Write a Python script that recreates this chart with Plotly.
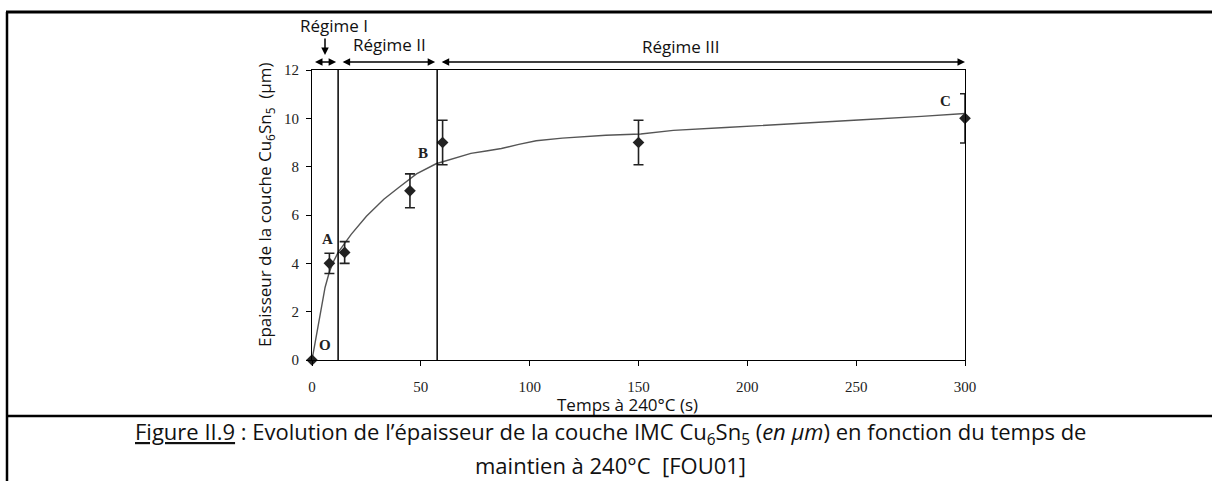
import plotly.graph_objects as go

# --- data ---
time_s = [0, 8, 15, 45, 60, 150, 300]
thickness_um = [0, 4.0, 4.45, 7.0, 9.0, 9.0, 10.0]
error_um = [None, 0.42, 0.45, 0.7, 0.92, 0.92, 1.02]

fit_time = [0, 3, 6, 8, 10, 12, 15, 18, 25, 33, 40, 48, 57, 65, 73, 80, 87, 95,
            103, 115, 135, 151, 166, 190, 218, 251, 280, 300]
fit_thickness = [0, 1.5, 3.0, 3.65, 4.1, 4.45, 4.85, 5.2, 5.95, 6.65, 7.15, 7.7, 8.12,
                 8.35, 8.55, 8.65, 8.75, 8.92, 9.07, 9.18, 9.3, 9.35, 9.5, 9.62, 9.75,
                 9.93, 10.08, 10.2]

regime_bounds = [0, 12, 57.5, 300]
regime_names = ['Régime I', 'Régime II', 'Régime III']

point_labels = ['O', 'A', 'B', 'C']
point_label_x = [6, 7, 51, 291]
point_label_y = [0.62, 5.0, 8.55, 10.7]

x_ticks = [0, 50, 100, 150, 200, 250, 300]
y_ticks = [0, 2, 4, 6, 8, 10, 12]

SANS = '"Open Sans", Lato, sans-serif'
SERIF = '"Liberation Serif", "Times New Roman", serif'

# plot area in page pixels
L, R, T, B = 312, 965, 70, 360


def px(xpix):
    return (xpix - L) / (R - L)


def py(ypix):
    return (B - ypix) / (B - T)


def label(text, xpix, ypix, font, **kw):
    # centred text placed by page pixel
    fig.add_annotation(x=px(xpix), y=py(ypix), xref='paper', yref='paper', text=text,
                       showarrow=False, xanchor='center', yanchor='middle', font=font, **kw)


fig = go.Figure()

# fitted curve
fig.add_trace(go.Scatter(
    x=fit_time, y=fit_thickness, mode='lines',
    line=dict(color='#555555', width=1.4),
    showlegend=False, hoverinfo='skip', cliponaxis=False
))

# measurements with error bars (origin has no bar)
fig.add_trace(go.Scatter(
    x=time_s[:1], y=thickness_um[:1], mode='markers',
    marker=dict(symbol='diamond', size=9, color='#222222'),
    showlegend=False, cliponaxis=False
))
fig.add_trace(go.Scatter(
    x=time_s[1:], y=thickness_um[1:], mode='markers',
    marker=dict(symbol='diamond', size=9, color='#222222'),
    error_y=dict(type='data', array=error_um[1:], visible=True,
                 color='#222222', thickness=1.6, width=5),
    showlegend=False, cliponaxis=False
))

# regime separators
for xb in regime_bounds[1:-1]:
    fig.add_shape(type='line', xref='x', yref='y', x0=xb, x1=xb, y0=0, y1=12,
                  line=dict(color='black', width=1.5))

# regime arrows above the plot (paper coords so they are not hidden)
xmax = regime_bounds[-1]
gaps = [(1.5, 2), (3, 2), (3, 0)]  # pixels between neighbouring arrows
for i in range(len(regime_names)):
    x0 = regime_bounds[i] / xmax * (R - L) + gaps[i][0]
    x1 = regime_bounds[i + 1] / xmax * (R - L) - gaps[i][1]
    fig.add_annotation(x=x1 / (R - L), y=py(62), xref='paper', yref='paper',
                       ax=-(x1 - x0), ay=0, axref='pixel', ayref='pixel',
                       text='', showarrow=True, arrowhead=2, arrowside='end+start',
                       arrowsize=1, arrowwidth=1.5, arrowcolor='black')

lab_font = dict(family=SANS, size=17, color='#111')
label(regime_names[0], 334, 25, lab_font)
fig.add_annotation(x=px(325), y=py(55), ax=0, ay=-18, xref='paper', yref='paper',
                   text='', showarrow=True, arrowhead=2, arrowsize=1, arrowwidth=1.5,
                   arrowcolor='black')
label(regime_names[1], 389, 44, lab_font)
label(regime_names[2], 681, 47, lab_font)

# point letters
for lab, lx, ly in zip(point_labels, point_label_x, point_label_y):
    fig.add_annotation(x=lx, y=ly, xref='x', yref='y', text='<b>' + lab + '</b>',
                       showarrow=False, font=dict(family=SERIF, size=15, color='#222'))

# axis titles
label('Epaisseur de la couche Cu<sub>6</sub>Sn<sub>5</sub>  (µm)', 265, 205,
      dict(family=SANS, size=17, color='#111'), textangle=-90)
label('Temps à 240°C (s)', 627, 404, dict(family=SANS, size=17, color='#111'))

# page frame and caption
frame = dict(xref='paper', yref='paper', type='line')
fig.add_shape(**frame, x0=px(6), x1=px(1212), y0=py(12), y1=py(12),
              line=dict(color='black', width=3))
fig.add_shape(**frame, x0=px(7), x1=px(7), y0=py(12), y1=py(481),
              line=dict(color='black', width=2.5))
fig.add_shape(**frame, x0=px(7), x1=px(1212), y0=py(416), y1=py(416),
              line=dict(color='black', width=2.5))

cap_font = dict(family=SANS, size=22, color='#111')
label('<u>Figure II.9</u> : Evolution de l’épaisseur de la couche IMC '
      'Cu<sub>6</sub>Sn<sub>5</sub> (<i>en µm</i>) en fonction du temps de',
      610, 433, cap_font)
label('maintien à 240°C  [FOU01]', 610, 465, cap_font)

fig.update_xaxes(range=[0, 300], tickvals=x_ticks, ticks='outside', ticklen=5,
                 tickcolor='black', showline=True, linecolor='black', linewidth=1.2,
                 mirror=True, showgrid=False, zeroline=False, ticklabelstandoff=8,
                 tickfont=dict(family=SERIF, size=15, color='#222'))
fig.update_yaxes(range=[0, 12], tickvals=y_ticks, ticks='outside', ticklen=5,
                 tickcolor='black', showline=True, linecolor='black', linewidth=1.2,
                 mirror=True, showgrid=False, zeroline=False, ticklabelstandoff=4,
                 tickfont=dict(family=SERIF, size=15, color='#222'))

fig.update_layout(
    width=1212, height=481,
    margin=dict(l=L, r=1212 - R, t=T, b=481 - B),
    paper_bgcolor='white', plot_bgcolor='white',
)

# drop the default page margin so the figure sits at the window's corner
fig.write_html('out.html', config={'displayModeBar': False},
               post_script="document.body.style.margin='0';")
